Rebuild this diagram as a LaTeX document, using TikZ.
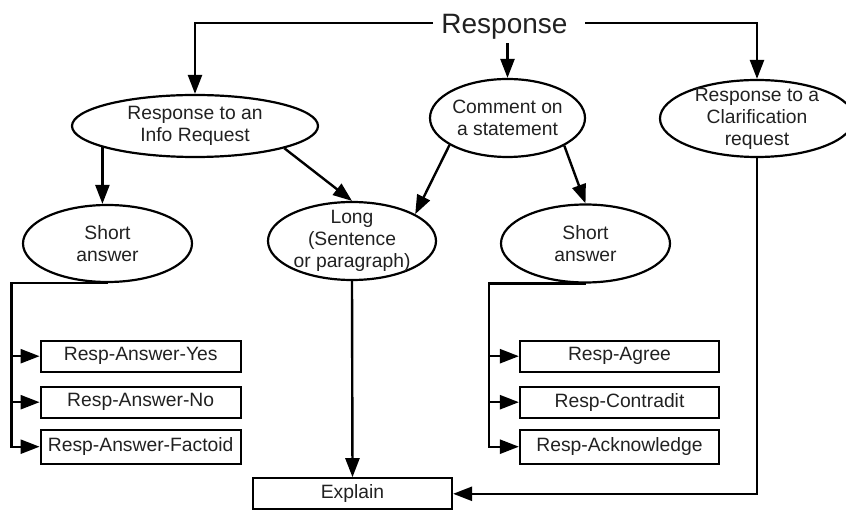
\documentclass[tikz,border=0pt]{standalone}
\usepackage{fontspec}
\setmainfont{Liberation Sans}
\usetikzlibrary{shapes.geometric,arrows.meta}
\begin{document}
\begin{tikzpicture}[x=1pt,y=1pt,
  txt/.style={font=\fontsize{19.3}{22}\selectfont, text=black!87, align=center},
  ell/.style={draw, ellipse, line width=2.2pt, inner sep=0pt},
  lab/.style={txt},
  box/.style={draw, rectangle, line width=2.2pt, inner sep=0pt, minimum width=200pt, minimum height=31pt, txt},
  conn/.style={line width=2.4pt},
  arr/.style={conn, -{Triangle[length=19pt,width=14pt]}},
]
\useasboundingbox (0,0) rectangle (846,-510);

% top label
\node[font=\fontsize{28}{30}\selectfont, text=black!87, anchor=base, inner sep=3pt] (resp) at (504.5,-34) {Response};
\coordinate (rl) at (433,-23.3);
\coordinate (rr) at (585,-23.3);

% ellipses
\node[ell, minimum width=246pt, minimum height=62pt, label={[lab]center:{Response to an\\Info Request}}] (info) at (195,-126) {};
\node[ell, minimum width=155pt, minimum height=78pt, label={[lab]center:{Comment on\\a statement}}] (comment) at (507.5,-118) {};
\node[ell, minimum width=194pt, minimum height=77pt, label={[lab]center:{Response to a\\Clarification\\request}}] (clar) at (757,-118.5) {};
\node[ell, minimum width=169pt, minimum height=77pt, label={[lab]center:{Short\\answer}}] (s1) at (107.5,-243.5) {};
\node[ell, minimum width=168pt, minimum height=78pt, label={[lab]center:{Long\\(Sentence\\or paragraph)}}] (long) at (352,-241) {};
\node[ell, minimum width=169pt, minimum height=78pt, label={[lab]center:{Short\\answer}}] (s2) at (585.5,-243.5) {};

% boxes
\node[box] (yes) at (140.7,-356.2) {Resp-Answer-Yes};
\node[box] (no) at (140.7,-402.2) {Resp-Answer-No};
\node[box, minimum height=34pt] (fact) at (140.7,-446.7) {Resp-Answer-Factoid};
\node[box, minimum width=199pt] (agree) at (619.5,-356.2) {Resp-Agree};
\node[box, minimum width=199pt] (contra) at (619.5,-402.2) {Resp-Contradit};
\node[box, minimum width=199pt, minimum height=34pt] (ack) at (619.5,-446.7) {Resp-Acknowledge};
\node[box, minimum width=199pt] (explain) at (352.5,-493.8) {Explain};

\coordinate (lx) at (11.5,0);
\coordinate (rx) at (489,0);

% connectors
\draw[arr] (rl) -| (info.north);
\draw[arr] (rr) -| (clar.north);
\draw[arr] (comment.north |- resp.south) -- (comment.north);

\draw[arr] (info.193.85) -- (info.193.85 |- s1.north);
\draw[arr] (info.346.15) -- (long.north);
\draw[arr] (comment.205.3) -- (long.23.7);
\draw[arr] (comment.334) -- (s2.north);

\draw[arr] (s1.south) -| (lx |- fact.west) -- (fact.west);
\draw[arr] (lx |- yes.west) -- (yes.west);
\draw[arr] (lx |- no.west) -- (no.west);

\draw[arr] (s2.south) -| (rx |- ack.west) -- (ack.west);
\draw[arr] (rx |- agree.west) -- (agree.west);
\draw[arr] (rx |- contra.west) -- (contra.west);

\draw[arr] (long.south) -- (explain.north);
\draw[arr] (clar.south) |- (explain.east);
\end{tikzpicture}
\end{document}
